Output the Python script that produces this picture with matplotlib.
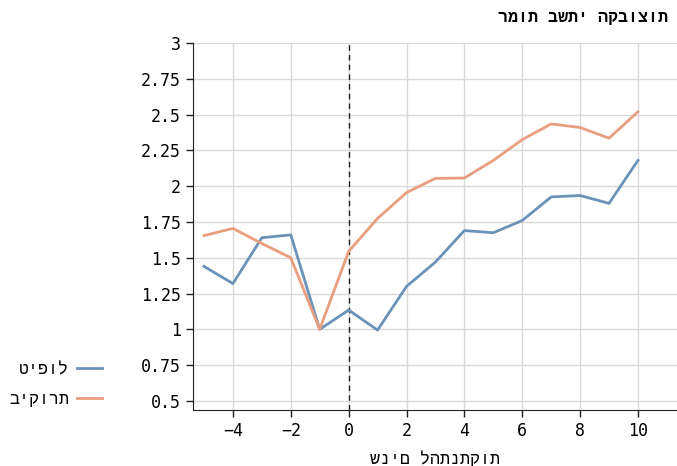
import numpy as np
import matplotlib
matplotlib.use("Agg")
import matplotlib.pyplot as plt

years = [-5, -4, -3, -2, -1, 0, 1, 2, 3, 4, 5, 6, 7, 8, 9, 10]
treatment = [1.44, 1.32, 1.64, 1.66, 1.0, 1.135, 0.995, 1.30, 1.47, 1.69,
             1.675, 1.76, 1.925, 1.935, 1.88, 2.18]
control = [1.655, 1.705, 1.60, 1.50, 1.0, 1.545, 1.775, 1.955, 2.055, 2.057,
           2.18, 2.325, 2.435, 2.41, 2.335, 2.52]

xticks = [-4, -2, 0, 2, 4, 6, 8, 10]
yticks = [0.5, 0.75, 1, 1.25, 1.5, 1.75, 2, 2.25, 2.5, 2.75, 3]
ytick_labels = ["0.5", "0.75", "1", "1.25", "1.5", "1.75", "2", "2.25", "2.5", "2.75", "3"]

title = "רמות בשתי הקבוצות"
xlabel = "שנים להתנתקות"
label_treat = "טיפול"
label_ctrl = "ביקורת"

blue = "#6b92b8"
orange = "#e89e7f"

# DejaVu Sans Mono for numbers, Liberation Mono for the Hebrew texts
plt.rcParams['font.family'] = ['DejaVu Sans Mono', 'Liberation Mono']
heb = ['Liberation Mono', 'DejaVu Sans']

fig = plt.figure(figsize=(6.77, 4.66), dpi=100)
ax = fig.add_axes([0.2855, 0.1202, 0.7145, 0.7875])

ax.plot(years, treatment, color=blue, lw=2.0, label=label_treat, zorder=3)
ax.plot(years, control, color=orange, lw=2.0, label=label_ctrl, zorder=3)
ax.axvline(0, color="#222222", lw=1.0, ls=(0, (4, 3)), zorder=2)

ax.set_xlim(-5.37, 11.35)
ax.set_ylim(0.437, 3)
ax.set_xticks(xticks)
ax.set_yticks(yticks)
ax.set_yticklabels(ytick_labels)
ax.tick_params(labelsize=12, length=5, width=1, color="#222222", pad=4)
ax.grid(True, color="#d9d9d9", lw=1.0, zorder=0)
ax.set_axisbelow(True)
for s in ["top", "right"]:
    ax.spines[s].set_visible(False)
for s in ["left", "bottom"]:
    ax.spines[s].set_color("#222222")

ax.set_xlabel(xlabel, fontsize=12, labelpad=7, family=heb)
fig.text(0.987, 0.963, title, ha="right", va="center", fontsize=12,
         fontweight="bold", family=heb)

fig.legend(loc="center right", bbox_to_anchor=(0.1724, 0.1747), frameon=False,
           markerfirst=False, handlelength=1.5, handletextpad=0.45,
           labelspacing=0.9, prop={'family': heb, 'size': 12})

fig.savefig("out.png", dpi=100)
